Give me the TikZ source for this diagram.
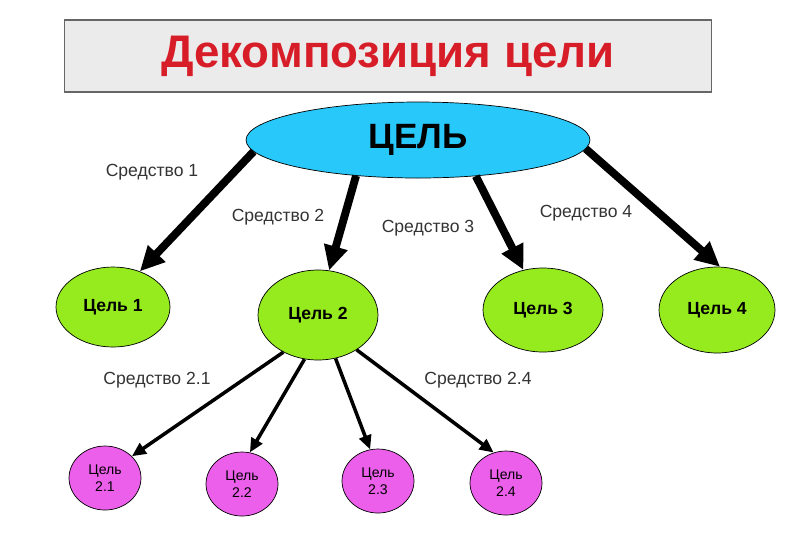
\documentclass[tikz,border=0pt]{standalone}
\usepackage{fontspec}
\setmainfont{Liberation Sans}
\usetikzlibrary{shapes.geometric,arrows.meta}
\tikzset{
  goal/.style={ellipse, draw=black, inner sep=0pt, font=\bfseries},
  big/.style={-{Triangle[length=14pt,width=13pt]}, line width=4.5pt},
  small/.style={-{Triangle[length=8pt,width=7pt]}, line width=2pt},
  lbl/.style={font=\fontsize{10}{12}\selectfont, text=black!80}
}
\begin{document}
\begin{tikzpicture}[x=0.02cm, y=-0.02cm]
  \useasboundingbox (0,0) rectangle (800,539);
  \node (title) [draw=black!60, fill=black!8, line width=1pt, minimum width=12.94cm,
        minimum height=1.44cm, font=\bfseries\fontsize{26}{30}\selectfont, text={rgb,255:red,215;green,30;blue,40}]
        at (388,56) {Декомпозиция цели};
  \node (goal) [goal, fill={rgb,255:red,40;green,200;blue,250}, minimum width=6.88cm, minimum height=1.52cm,
        font=\bfseries\fontsize{20}{24}\selectfont] at (418,140) {ЦЕЛЬ};
  % goals of level one
  \foreach \n/\x/\y/\w/\h in {1/113/307/2.28/1.6, 2/318/315/2.4/1.8, 3/543/310/2.4/1.68, 4/717/310/2.32/1.72}
    \node (g\n) [goal, fill={rgb,255:red,150;green,235;blue,30}, minimum width=\w cm, minimum height=\h cm,
          font=\bfseries\fontsize{10}{12}\selectfont] at (\x,\y) {Цель \n};
  % goals of level two
  \foreach \n/\x/\y in {1/105/478, 2/242/484, 3/378/481, 4/506/483}
    \node (g2\n) [goal, fill={rgb,255:red,235;green,95;blue,235}, minimum width=1.44cm, minimum height=1.28cm,
          align=center, font=\fontsize{8}{10}\selectfont] at (\x,\y) {Цель\\2.\n};
  \draw[big] (goal.184) -- (g1.53);
  \draw[big] (goal.210) -- (g2.76);
  \draw[big] (goal.-32) -- (g3.116);
  \draw[big] (goal.-3) -- (g4.86);
  \draw[small] (g2.227) -- (g21.39);
  \draw[small] (g2.253) -- (g22.76);
  \draw[small] (g2.292) -- (g23.104);
  \draw[small] (g2.318) -- (g24.112);
  \node (m1) [lbl] at (152,172) {Средство 1};
  \node (m2) [lbl] at (278,217) {Средство 2};
  \node (m3) [lbl] at (428,228) {Средство 3};
  \node (m4) [lbl] at (586,213) {Средство 4};
  \node (m21) [lbl] at (157,380) {Средство 2.1};
  \node (m24) [lbl] at (478,380) {Средство 2.4};
\end{tikzpicture}
\end{document}
